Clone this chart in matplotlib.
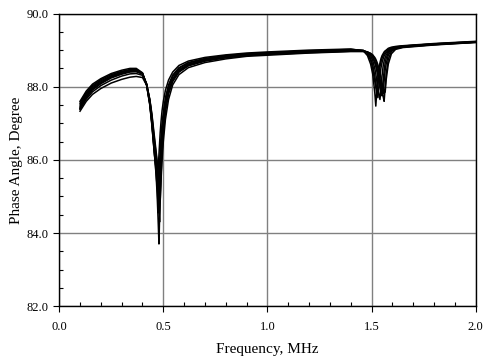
import numpy as np
import matplotlib
matplotlib.use("Agg")
import matplotlib.pyplot as plt
from matplotlib.ticker import MultipleLocator

# shared frequency grid (MHz)
freq = [0.10, 0.13, 0.16, 0.20, 0.25, 0.30, 0.34, 0.37, 0.40, 0.42,
        0.435, 0.445, 0.455, 0.462, 0.467, 0.470, 0.473, 0.476, 0.479, 0.482,
        0.485, 0.489, 0.494, 0.50, 0.51, 0.525, 0.545, 0.575, 0.62, 0.70,
        0.80, 0.90, 1.00, 1.20, 1.40, 1.46, 1.48, 1.495, 1.505, 1.515,
        1.520, 1.525, 1.530, 1.535, 1.540, 1.545, 1.550, 1.555, 1.560, 1.565,
        1.570, 1.580, 1.595, 1.615, 1.65, 1.80, 2.00]

# phase angle (degree), one list per measured sample
phase_a = [87.60, 87.88, 88.07, 88.22, 88.36, 88.45, 88.50, 88.50, 88.38, 88.04,
           87.50, 86.95, 86.30, 85.90, 85.70, 85.58, 85.50, 85.80, 86.15, 86.45,
           86.75, 87.05, 87.35, 87.60, 87.90, 88.18, 88.40, 88.58, 88.70, 88.80,
           88.87, 88.92, 88.95, 89.00, 89.03, 88.98, 88.85, 88.62, 88.35, 87.85,
           87.47, 87.90, 88.25, 88.50, 88.65, 88.77, 88.85, 88.90, 88.95, 88.98,
           89.00, 89.05, 89.08, 89.10, 89.12, 89.18, 89.24]
phase_b = [87.55, 87.84, 88.03, 88.19, 88.33, 88.42, 88.47, 88.47, 88.37, 88.05,
           87.55, 87.02, 86.40, 86.00, 85.75, 85.58, 85.36, 85.10, 85.50, 85.90,
           86.25, 86.65, 87.00, 87.30, 87.70, 88.05, 88.32, 88.52, 88.66, 88.77,
           88.85, 88.90, 88.93, 88.98, 89.02, 88.99, 88.90, 88.72, 88.50, 88.15,
           87.98, 87.80, 88.05, 88.35, 88.55, 88.68, 88.78, 88.85, 88.90, 88.94,
           88.97, 89.02, 89.06, 89.09, 89.11, 89.17, 89.23]
phase_c = [87.50, 87.80, 88.00, 88.16, 88.30, 88.40, 88.45, 88.45, 88.36, 88.04,
           87.52, 86.98, 86.30, 85.85, 85.50, 85.28, 84.95, 84.55, 85.05, 85.55,
           85.95, 86.40, 86.80, 87.15, 87.60, 88.00, 88.28, 88.50, 88.65, 88.76,
           88.84, 88.89, 88.92, 88.97, 89.01, 88.99, 88.92, 88.78, 88.60, 88.30,
           88.10, 87.90, 87.70, 88.00, 88.30, 88.52, 88.66, 88.76, 88.84, 88.89,
           88.93, 88.99, 89.04, 89.08, 89.11, 89.17, 89.23]
phase_d = [87.45, 87.76, 87.97, 88.13, 88.28, 88.38, 88.43, 88.43, 88.35, 88.04,
           87.55, 87.03, 86.35, 85.85, 85.40, 85.08, 84.65, 84.20, 83.70, 84.40,
           85.10, 85.80, 86.40, 86.90, 87.45, 87.90, 88.22, 88.46, 88.62, 88.74,
           88.82, 88.88, 88.91, 88.96, 89.00, 88.99, 88.94, 88.84, 88.72, 88.50,
           88.35, 88.15, 87.95, 87.80, 87.65, 87.95, 88.30, 88.55, 88.70, 88.80,
           88.87, 88.96, 89.02, 89.07, 89.10, 89.16, 89.22]
phase_e = [87.42, 87.73, 87.94, 88.10, 88.26, 88.36, 88.42, 88.42, 88.35, 88.07,
           87.60, 87.12, 86.50, 86.10, 85.78, 85.58, 85.33, 85.05, 84.80, 85.20,
           85.60, 86.10, 86.55, 86.95, 87.45, 87.88, 88.20, 88.44, 88.60, 88.72,
           88.81, 88.87, 88.90, 88.95, 88.99, 88.98, 88.95, 88.88, 88.80, 88.65,
           88.55, 88.42, 88.28, 88.12, 87.98, 87.85, 87.75, 88.10, 88.45, 88.65,
           88.78, 88.92, 89.01, 89.06, 89.10, 89.16, 89.22]
phase_f = [87.40, 87.70, 87.91, 88.08, 88.24, 88.34, 88.40, 88.41, 88.35, 88.08,
           87.63, 87.17, 86.57, 86.15, 85.80, 85.56, 85.24, 84.90, 84.62, 84.30,
           84.85, 85.55, 86.20, 86.70, 87.30, 87.80, 88.15, 88.41, 88.58, 88.71,
           88.80, 88.86, 88.89, 88.94, 88.98, 88.97, 88.94, 88.89, 88.82, 88.70,
           88.62, 88.52, 88.40, 88.26, 88.12, 88.00, 87.90, 87.80, 88.15, 88.45,
           88.63, 88.86, 88.99, 89.05, 89.09, 89.15, 89.22]
phase_g = [87.38, 87.66, 87.86, 88.03, 88.18, 88.29, 88.35, 88.36, 88.31, 88.06,
           87.64, 87.22, 86.67, 86.32, 86.08, 85.93, 85.72, 85.55, 85.45, 85.30,
           85.65, 86.10, 86.55, 86.95, 87.45, 87.85, 88.15, 88.40, 88.57, 88.70,
           88.79, 88.85, 88.88, 88.93, 88.97, 88.97, 88.95, 88.91, 88.86, 88.77,
           88.70, 88.61, 88.50, 88.37, 88.22, 88.05, 87.88, 87.74, 87.60, 87.98,
           88.35, 88.75, 88.96, 89.04, 89.08, 89.15, 89.21]
phase_h = [87.33, 87.60, 87.79, 87.95, 88.10, 88.20, 88.26, 88.28, 88.25, 88.04,
           87.66, 87.26, 86.75, 86.40, 86.15, 85.98, 85.82, 85.55, 85.30, 85.08,
           84.90, 85.45, 86.00, 86.50, 87.10, 87.65, 88.05, 88.33, 88.52, 88.66,
           88.76, 88.83, 88.86, 88.92, 88.96, 88.96, 88.94, 88.91, 88.87, 88.80,
           88.75, 88.68, 88.60, 88.50, 88.38, 88.24, 88.10, 87.98, 87.90, 87.85,
           88.20, 88.62, 88.90, 89.02, 89.07, 89.14, 89.21]

plt.rcParams['font.family'] = ['Liberation Serif', 'DejaVu Serif']

fig = plt.figure(figsize=(4.85, 3.56), dpi=100)
ax = fig.add_axes([0.122, 0.140, 0.859, 0.822])

for p in [phase_a, phase_b, phase_c, phase_d, phase_e, phase_f, phase_g, phase_h]:
    ax.plot(freq, p, color='black', lw=1.1)

ax.set_xlim(0, 2.0)
ax.set_ylim(82, 90)
ax.xaxis.set_major_locator(MultipleLocator(0.5))
ax.xaxis.set_minor_locator(MultipleLocator(0.1))
ax.yaxis.set_major_locator(MultipleLocator(2.0))
ax.yaxis.set_minor_locator(MultipleLocator(0.5))
ax.xaxis.set_major_formatter(matplotlib.ticker.FormatStrFormatter('%.1f'))
ax.yaxis.set_major_formatter(matplotlib.ticker.FormatStrFormatter('%.1f'))
ax.grid(True, which='major', color='#808080', lw=1.0)
ax.tick_params(which='major', direction='out', length=4, width=0.8, labelsize=9)
ax.tick_params(axis='x', which='major', pad=7)
ax.tick_params(which='minor', direction='in', length=3, width=0.8)
for s in ax.spines.values():
    s.set_color('black')
    s.set_linewidth(1.0)

ax.set_xlabel("Frequency, MHz", fontsize=11, labelpad=7)
ax.set_ylabel("Phase Angle, Degree", fontsize=11, labelpad=3)

plt.savefig("out.png", dpi=100)
